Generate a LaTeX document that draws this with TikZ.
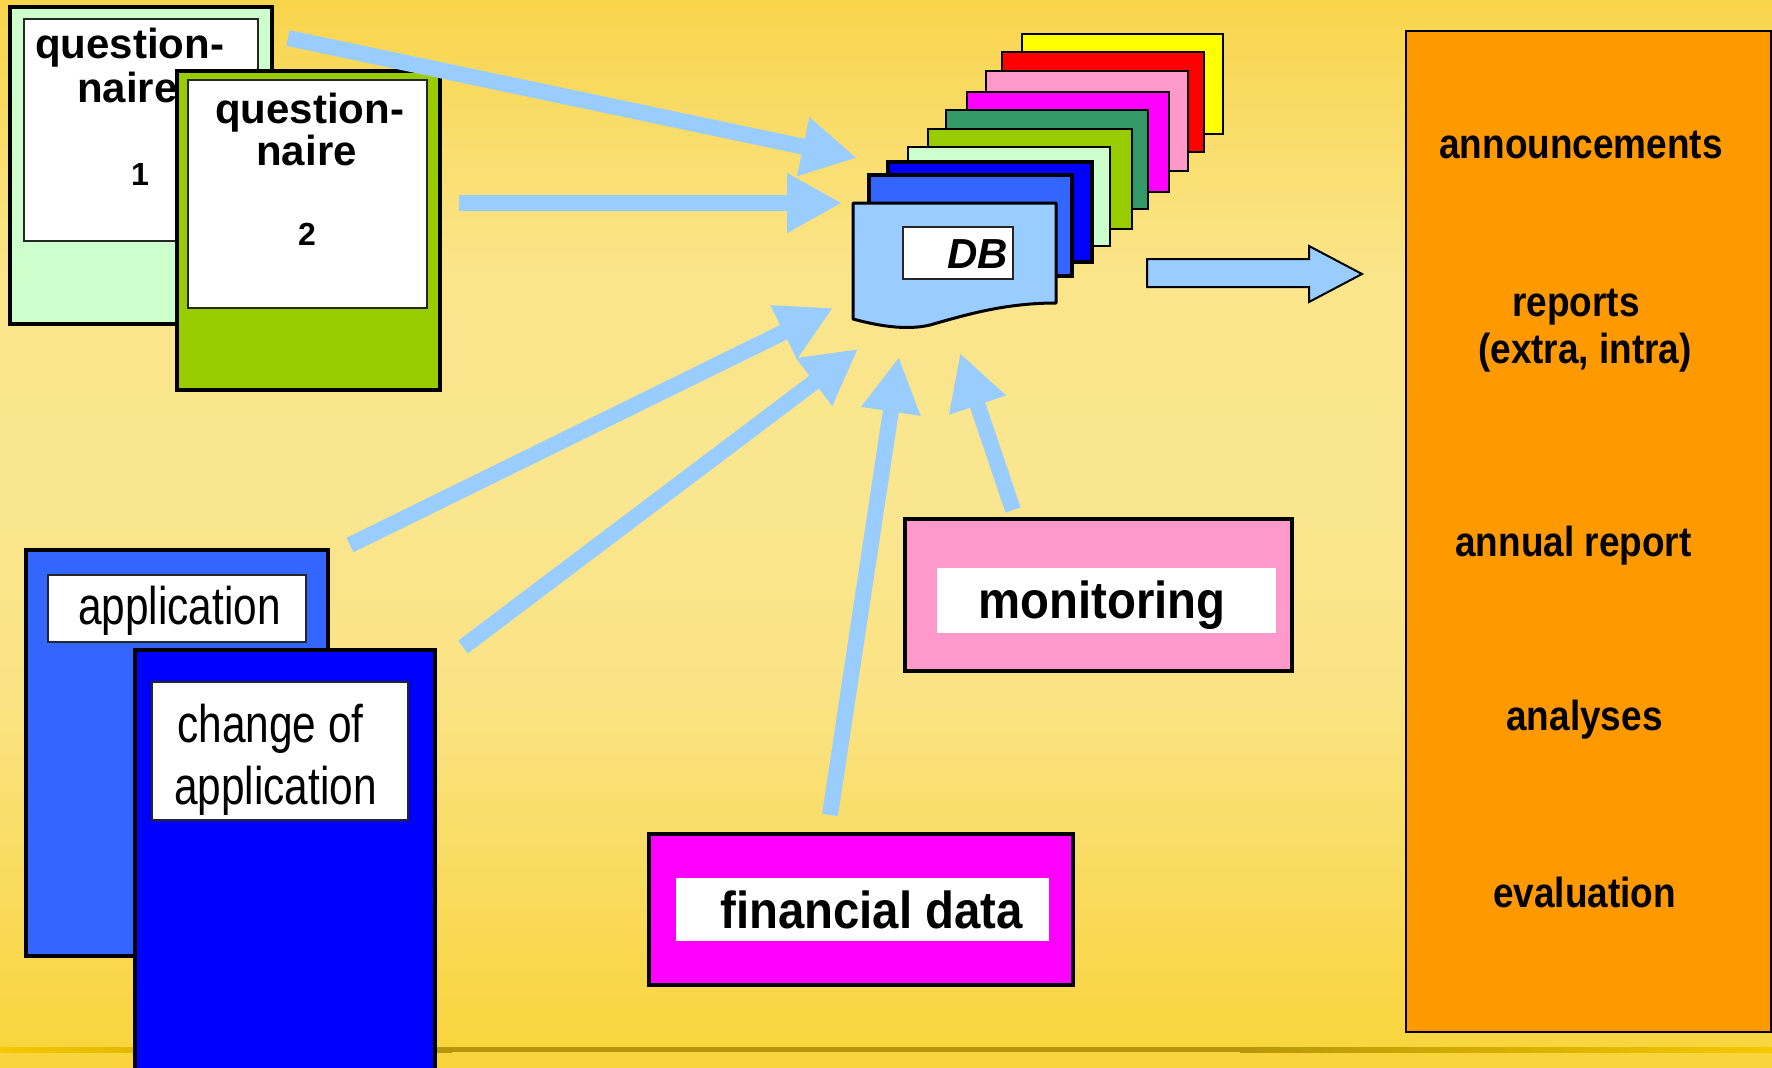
\documentclass[tikz,border=0pt]{standalone}
\usepackage{fontspec}
\setmainfont{Liberation Sans}
\newfontfamily\qfont{Liberation Sans}
\newfontfamily\nfont[FakeStretch=0.8]{Liberation Sans}
\newfontfamily\mfont[FakeStretch=0.91]{Liberation Sans}
\newfontfamily\ofont[FakeStretch=0.88]{Liberation Sans}
\usetikzlibrary{arrows.meta}
\definecolor{bgA}{HTML}{F9D54C}
\definecolor{bgB}{HTML}{FAE58B}
\definecolor{bgC}{HTML}{FAE68F}
\definecolor{bgD}{HTML}{FAE383}
\definecolor{bgE}{HTML}{F9DA5A}
\definecolor{bgF}{HTML}{F9D43A}
\definecolor{lineL}{HTML}{F5C800}
\definecolor{lineM}{HTML}{B8960A}
\definecolor{arrowblue}{HTML}{99CCFF}
\definecolor{lgreen}{HTML}{CCFFCC}
\definecolor{ygreen}{HTML}{99CC00}
\definecolor{dgreen}{HTML}{339966}
\definecolor{pinkc}{HTML}{FF99CC}
\definecolor{magc}{HTML}{FF00FF}
\definecolor{midblue}{HTML}{3366FF}
\definecolor{deepblue}{HTML}{0000FF}
\definecolor{orangec}{HTML}{FF9900}
\definecolor{redc}{HTML}{FF0000}
\definecolor{yellowc}{HTML}{FFFF00}
\pgfdeclareverticalshading{bgshade}{100bp}{color(0bp)=(bgF); color(25bp)=(bgF); color(32.9bp)=(bgE); color(42.2bp)=(bgD); color(51.6bp)=(bgC); color(61.9bp)=(bgB); color(75bp)=(bgA); color(100bp)=(bgA)}
\begin{document}
\begin{tikzpicture}[x=1pt,y=-1pt,
  docbox/.style={draw=black, line width=3.5pt, inner sep=0pt, outer sep=0pt, anchor=north west},
  inbox/.style={draw=black!85, fill=white, line width=1.5pt, inner sep=0pt, outer sep=0pt, anchor=north west},
  plainin/.style={fill=white, inner sep=0pt, outer sep=0pt, anchor=north west},
  card/.style={draw=black, line width=2.5pt, inner sep=0pt, outer sep=0pt, anchor=north west},
  lbl/.style={anchor=base, inner sep=0pt},
  conn/.style={draw=arrowblue, line width=16pt, -{Triangle[width=56pt,length=55pt]}},
  qtxt/.style={lbl, font=\qfont\bfseries\fontsize{42}{44}\selectfont},
  ntxt/.style={lbl, font=\qfont\bfseries\fontsize{32}{34}\selectfont},
  atxt/.style={lbl, font=\nfont\fontsize{53}{56}\selectfont},
  mtxt/.style={lbl, font=\mfont\bfseries\fontsize{52}{56}\selectfont},
  otxt/.style={lbl, font=\ofont\bfseries\fontsize{42}{46}\selectfont}
]
\useasboundingbox (0,0) rectangle (1772,1068);
% background
\shade[shading=bgshade] (0,0) rectangle (1772,1068);
\shade[left color=lineL, right color=lineM] (0,1047) rectangle (452,1052);
\fill[lineM] (451,1047) rectangle (1241,1052);
\shade[left color=lineM, right color=lineL] (1240,1047) rectangle (1772,1052);

% questionnaire 1
\node[docbox, fill=lgreen, minimum width=262pt, minimum height=317pt] (q1) at (10,7) {};
\node[inbox, minimum width=234pt, minimum height=222pt] (q1in) at (24,19) {};
\node[qtxt] (q1a) at (129.5,58) {question-};
\node[qtxt] (q1b) at (127.5,102) {naire};
\node[ntxt] (q1c) at (140,185) {1};

% questionnaire 2
\node[docbox, fill=ygreen, minimum width=263pt, minimum height=319pt] (q2) at (177,71) {};
\node[inbox, minimum width=239pt, minimum height=228pt] (q2in) at (188,80) {};
\node[qtxt] (q2a) at (309.5,123) {question-};
\node[qtxt] (q2b) at (306.5,165) {naire};
\node[ntxt] (q2c) at (307,245) {2};

% application
\node[docbox, fill=midblue, minimum width=302pt, minimum height=406pt] (app) at (26,550) {};
\node[inbox, minimum width=258pt, minimum height=67pt] (appin) at (48,575) {};
\node[atxt] (appt) at (179.5,624) {application};

% change of application
\node[docbox, fill=deepblue, minimum width=300pt, minimum height=430pt] (chg) at (135,650) {};
\node[inbox, minimum width=256pt, minimum height=138pt] (chgin) at (152,682) {};
\node[atxt] (chgt1) at (270.5,742) {change of};
\node[atxt] (chgt2) at (275.5,804) {application};

% monitoring
\node[docbox, fill=pinkc, minimum width=387pt, minimum height=152pt] (mon) at (905,519) {};
\node[plainin, minimum width=339pt, minimum height=65pt] (monin) at (937,568) {};
\node[mtxt] (mont) at (1102,618) {monitoring};

% financial data
\node[docbox, fill=magc, minimum width=424pt, minimum height=151pt] (fin) at (649,834) {};
\node[plainin, minimum width=373pt, minimum height=63pt] (finin) at (676,878) {};
\node[mtxt] (fint) at (871.5,928) {financial data};

% outputs
\node[draw=black, line width=2pt, fill=orangec, inner sep=0pt, anchor=north west, minimum width=365pt, minimum height=1001pt] (out) at (1405,30) {};
\node[otxt] (o1) at (1581,158) {announcements};
\node[otxt] (o2) at (1576,316) {reports};
\node[otxt] (o3) at (1585,363) {(extra, intra)};
\node[otxt] (o4) at (1573.5,556) {annual report};
\node[otxt] (o5) at (1584.5,730) {analyses};
\node[otxt] (o6) at (1584.5,907) {evaluation};

% DB stack
\node[card, fill=yellowc, minimum width=201pt, minimum height=100pt] (s1) at (1022,34) {};
\node[card, fill=redc, minimum width=202pt, minimum height=100pt] (s2) at (1002,52) {};
\node[card, fill=pinkc, minimum width=202pt, minimum height=100pt] (s3) at (986,71) {};
\node[card, fill=magc, minimum width=202pt, minimum height=100pt] (s4) at (967,92) {};
\node[card, fill=dgreen, minimum width=202pt, minimum height=99pt] (s5) at (946,110) {};
\node[card, fill=ygreen, minimum width=204pt, minimum height=100pt] (s6) at (928,129) {};
\node[card, fill=lgreen, minimum width=202pt, minimum height=99pt] (s7) at (908,147) {};
\node[card, fill=deepblue, line width=4pt, minimum width=204pt, minimum height=100pt] (s8) at (888,162) {};
\node[card, fill=midblue, line width=4pt, minimum width=203pt, minimum height=101pt] (s9) at (869,175) {};
\draw[black, line width=3pt, fill=arrowblue, line join=round]
  (853,203) -- (1056,203) -- (1056,303)
  .. controls (1005,303) and (965,315) .. (930,325)
  .. controls (905,331) and (875,325) .. (853,319) -- cycle;
\node[inbox, minimum width=110pt, minimum height=52pt] (dbin) at (903,227) {};
\node[lbl, anchor=base east, font=\qfont\bfseries\itshape\fontsize{42}{44}\selectfont] (dbt) at (1008,268) {DB};

% output arrow
\draw[black, line width=2pt, fill=arrowblue, line join=miter]
  (1147,259) -- (1309,259) -- (1309,246) -- (1362,274) -- (1309,302) -- (1309,287) -- (1147,287) -- cycle;

% connectors
\coordinate (aS) at (288,38);   \coordinate (aE) at (857,158);
\coordinate (bS) at (459,203);  \coordinate (bE) at (842,203);
\coordinate (cS) at (350,545);  \coordinate (cE) at (833,308);
\coordinate (dS) at (463,647);  \coordinate (dE) at (858,349);
\coordinate (eS) at (830,815);  \coordinate (eE) at (899,357);
\coordinate (fS) at (1013,510); \coordinate (fE) at (960,353);
\draw[conn] (aS) -- (aE);
\draw[conn] (bS) -- (bE);
\draw[conn] (cS) -- (cE);
\draw[conn] (dS) -- (dE);
\draw[conn] (eS) -- (eE);
\draw[conn] (fS) -- (fE);
\end{tikzpicture}
\end{document}
